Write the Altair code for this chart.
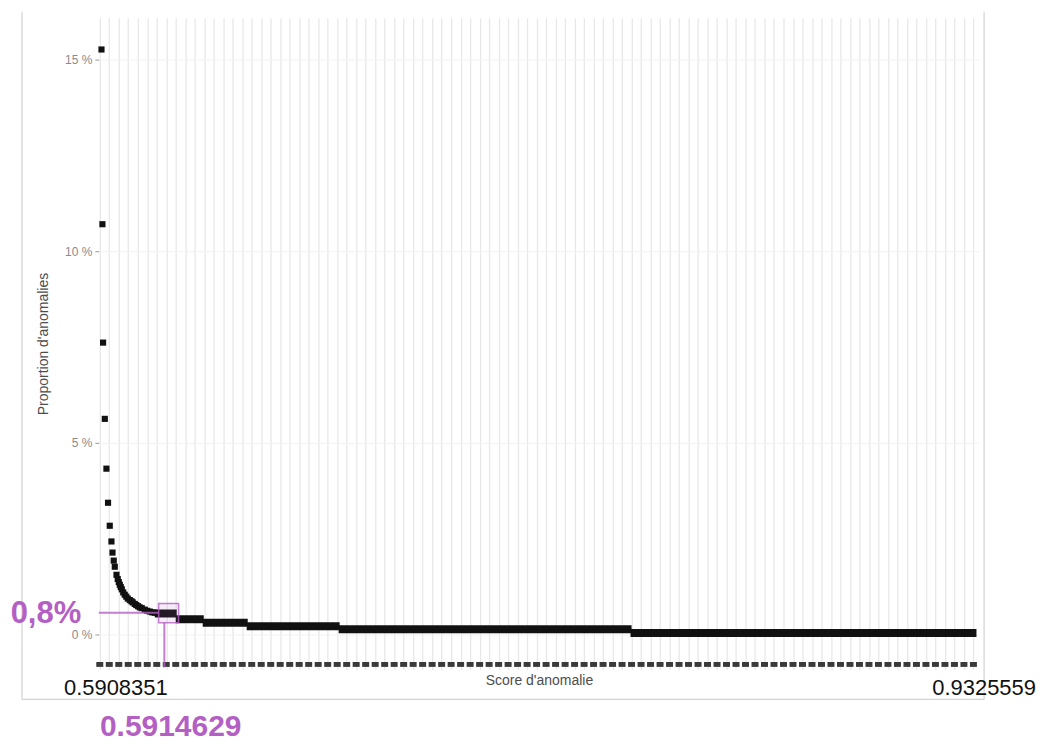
import altair as alt
import pandas as pd

# ---- data ----
# x is the rank position of the threshold along the score axis (one unit per grid line)
curve_rank = [0.18, 0.28, 0.35, 0.53, 0.70, 0.87, 1.05, 1.23, 1.34, 1.47, 1.58, 1.76,
              1.89, 2.00, 2.11, 2.21, 2.32, 2.47, 2.63, 2.79, 2.95, 3.16, 3.34, 3.47,
              3.68, 3.84, 4.03, 4.21, 4.42, 4.74, 5.00, 5.26, 5.53, 5.79]
curve_pct = [15.27, 10.71, 7.62, 5.63, 4.33, 3.44, 2.84, 2.43, 2.14, 1.93, 1.77, 1.56,
             1.45, 1.37, 1.30, 1.24, 1.18, 1.10, 1.04, 0.99, 0.94, 0.90, 0.87, 0.84,
             0.80, 0.77, 0.74, 0.71, 0.69, 0.65, 0.62, 0.60, 0.58, 0.57]

step_start = [5.79, 8.00, 10.84, 15.47, 25.16, 55.89]
step_end = [8.10, 10.95, 15.58, 25.26, 56.00, 92.32]
step_pct = [0.55, 0.40, 0.31, 0.22, 0.14, 0.04]

grid_ticks = list(range(0, 93))          # vertical grid / bottom tick row positions
bottom_row_pct = -0.78
y_ticks = [0, 5, 10, 15]

score_min_label = "0.5908351"
score_max_label = "0.9325559"
threshold_label = "0.5914629"
threshold_pct_label = "0,8%"
threshold_rank = 6.8
threshold_pct = 0.57
box_x = [6.2, 8.3]
box_y = [0.31, 0.81]

PURPLE = "#b45fc4"
FONT = "Liberation Sans"

W, H = 882, 653
x_scale = alt.Scale(domain=[-0.1, 92.6], nice=False, zero=False)
y_scale = alt.Scale(domain=[-0.91, 16.1], nice=False, zero=False)

x_axis = alt.Axis(values=grid_ticks, labels=False, ticks=False, domain=False,
                  grid=True, gridColor="#e8e8e8", gridWidth=1.3,
                  title="Score d'anomalie", titleFont=FONT, titleFontSize=14,
                  titleFontWeight="normal", titleColor="#4d4d4d", titlePadding=4)
y_axis = alt.Axis(values=y_ticks, labelExpr="datum.value + ' %'", domain=False,
                  grid=True, gridColor="#f2f2f2", tickColor="#9a9a9a", tickSize=4,
                  labelFont=FONT, labelFontSize=12, labelColor="#8a8a8a", labelPadding=3,
                  title="Proportion d'anomalies", titleFont=FONT, titleFontSize=14,
                  titleFontWeight="normal", titleColor="#4d4d4d", titlePadding=14)

curve_df = pd.DataFrame({"rank": curve_rank, "pct": curve_pct})
steps_df = pd.DataFrame({"x0": step_start, "x1": step_end, "pct": step_pct})
bottom_df = pd.DataFrame({"rank": grid_ticks, "pct": [bottom_row_pct] * len(grid_ticks)})

base_points = alt.Chart(curve_df).mark_point(
    shape="square", filled=True, size=38, color="#111111", opacity=1
).encode(
    x=alt.X("rank:Q", scale=x_scale, axis=x_axis),
    y=alt.Y("pct:Q", scale=y_scale, axis=y_axis),
)

steps = alt.Chart(steps_df).mark_rule(color="#111111", strokeWidth=8).encode(
    x=alt.X("x0:Q", scale=x_scale, axis=x_axis),
    x2="x1:Q",
    y=alt.Y("pct:Q", scale=y_scale, axis=y_axis),
)

bottom = alt.Chart(bottom_df).mark_point(
    shape="M-1,-0.7L1,-0.7L1,0.7L-1,0.7Z", filled=True, size=49, color="#3a3a3a", opacity=1
).encode(
    x=alt.X("rank:Q", scale=x_scale, axis=x_axis),
    y=alt.Y("pct:Q", scale=y_scale, axis=y_axis),
)

# annotation: threshold marker
ann_df = pd.DataFrame({"x0": [-0.1], "x1": [box_x[0]], "xr": [threshold_rank],
                       "y": [threshold_pct], "yb": [box_y[0]], "ylow": [-0.86],
                       "bx0": [box_x[0]], "bx1": [box_x[1]], "by0": [box_y[0]], "by1": [box_y[1]]})
h_line = alt.Chart(ann_df).mark_rule(color=PURPLE, strokeWidth=2, opacity=0.8).encode(
    x=alt.X("x0:Q", scale=x_scale, axis=x_axis), x2="x1:Q",
    y=alt.Y("y:Q", scale=y_scale, axis=y_axis))
v_line = alt.Chart(ann_df).mark_rule(color=PURPLE, strokeWidth=2, opacity=0.8).encode(
    x=alt.X("xr:Q", scale=x_scale, axis=x_axis),
    y=alt.Y("yb:Q", scale=y_scale, axis=y_axis), y2="ylow:Q")
box = alt.Chart(ann_df).mark_rect(fill=PURPLE, fillOpacity=0.12, stroke=PURPLE,
                                  strokeWidth=1.5, strokeOpacity=0.8).encode(
    x=alt.X("bx0:Q", scale=x_scale, axis=x_axis), x2="bx1:Q",
    y=alt.Y("by0:Q", scale=y_scale, axis=y_axis), y2="by1:Q")


def label(text, px, py, size, color, weight="normal"):
    return alt.Chart(pd.DataFrame({"t": [text]})).mark_text(
        font=FONT, fontSize=size, fontWeight=weight, color=color,
        align="center", baseline="middle"
    ).encode(x=alt.value(px), y=alt.value(py), text="t:N")


txt_min = label(score_min_label, 17, 672, 22, "#111111")
txt_max = label(score_max_label, 887, 672, 22, "#111111")
txt_thr = label(threshold_label, 72, 711, 30, PURPLE, "bold")
txt_pct = label(threshold_pct_label, -53, 597, 31, PURPLE, "bold")

# light frame of the original screenshot
frame_left = alt.Chart(pd.DataFrame({"k": ["l"]})).mark_rule(color="#d3d3d3", strokeWidth=1.2).encode(
    x=alt.value(-77), y=alt.value(-6), y2=alt.value(683))
frame_right = alt.Chart(pd.DataFrame({"k": ["r"]})).mark_rule(color="#d3d3d3", strokeWidth=1.2).encode(
    x=alt.value(887), y=alt.value(-6), y2=alt.value(683))
frame_bottom = alt.Chart(pd.DataFrame({"k": ["b"]})).mark_rule(color="#d3d3d3", strokeWidth=1.2).encode(
    x=alt.value(-77), x2=alt.value(887), y=alt.value(683))

chart = alt.layer(
    frame_left, frame_right, frame_bottom,
    base_points, steps, bottom, h_line, box, v_line,
    txt_min, txt_max, txt_thr, txt_pct,
).properties(
    width=W, height=H,
    autosize=alt.AutoSizeParams(type="none"),
    padding={"left": 91, "top": 9, "right": 64, "bottom": 76},
    background="white",
).configure_view(stroke=None)

chart.save("out.html", embed_options={"renderer": "svg", "actions": False})
